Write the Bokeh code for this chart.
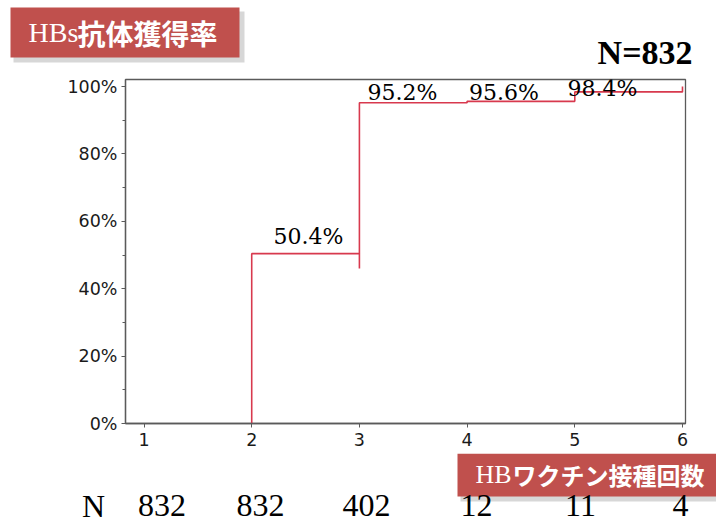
from bokeh.plotting import figure
from bokeh.layouts import column
from bokeh.models import Range1d, FixedTicker, PrintfTickFormatter, ColumnDataSource
from bokeh.core.properties import value
from bokeh.embed import file_html
from bokeh.resources import INLINE

# ---------------- data ----------------
doses = [2, 3, 4, 5, 6]                    # number of HB vaccine doses
rates = [50.4, 95.2, 95.6, 98.4, 100.0]    # cumulative HBs antibody acquisition (%)
rate_labels = ["50.4%", "95.2%", "95.6%", "98.4%"]
n_doses = [1, 2, 3, 4, 5, 6]
n_at_risk = [832, 832, 402, 12, 11, 4]
total_n = 832
x_ticks = [1, 2, 3, 4, 5, 6]
y_ticks = [0, 20, 40, 60, 80, 100]
y_minor = [10, 30, 50, 70, 90]
title_latin = "HBs"
title_cjk = "抗体獲得率"
xlab_latin = "HB"
xlab_cjk = "ワクチン接種回数"

# ---------------- layout (positions / styles) ----------------
RED = "#C0504D"
LINE = "#D8394E"
SHADOW = "#8c8c8c"
W = 716
TOP_H = 72          # header strip height
MAIN_H = 381        # main chart height (page y 72..453)
BOT_H = 523 - TOP_H - MAIN_H
FL, FR, FT, FB = 125, 685, 79, 423          # frame edges, page px
X0, X1 = 0.828, 6.028
Y0, Y1 = 0.0, 102.08

def dx(px):  # page px -> data x
    return X0 + (px - FL) * (X1 - X0) / (FR - FL)

def dy(py):  # page px -> data y
    return Y0 + (FB - py) * (Y1 - Y0) / (FB - FT)

label_px = [(308, 236), (402, 92), (503.5, 92), (602, 88)]
n_x_off = [0.167, 0.081, 0.066, 0.087, 0.053, -0.019]


def plain_fig(h, xr):
    f = figure(width=W, height=h, output_backend="svg", toolbar_location=None,
               x_range=xr, y_range=Range1d(h, 0), x_axis_type=None, y_axis_type=None,
               min_border=0)
    f.outline_line_color = None
    f.xgrid.visible = False
    f.ygrid.visible = False
    f.background_fill_color = "white"
    f.border_fill_color = "white"
    return f

# ---------------- header ----------------
top = plain_fig(TOP_H, Range1d(0, W))
top.quad(left=[13], right=[244], top=[11], bottom=[62], fill_color=SHADOW,
         fill_alpha=0.35, line_color=None)
top.quad(left=[10], right=[239], top=[7], bottom=[57], fill_color=RED, line_color=None)
top.text(x=[28], y=[32], text=[title_latin], text_font=value("Liberation Serif"),
         text_font_size="28px", text_color="white", text_baseline="middle")
top.text(x=[77], y=[32], text=[title_cjk], text_font=value("Noto Sans CJK JP"),
         text_font_style="bold", text_font_size="28px", text_color="white",
         text_baseline="middle")
top.text(x=[692], y=[52], text=[f"N={total_n}"], text_font=value("Liberation Serif"),
         text_font_style="bold", text_font_size="34px", text_color="black",
         text_align="right", text_baseline="middle")

# ---------------- main chart ----------------
p = figure(width=W, height=MAIN_H, output_backend="svg", toolbar_location=None,
           x_range=Range1d(X0, X1), y_range=Range1d(Y0, Y1),
           min_border_left=FL, min_border_right=W - FR,
           min_border_top=FT - TOP_H, min_border_bottom=TOP_H + MAIN_H - FB)
p.background_fill_color = "white"
p.border_fill_color = "white"
p.outline_line_color = "#5a5a5a"
p.outline_line_width = 1.3
p.xgrid.visible = False
p.ygrid.visible = False

for ax in (p.xaxis[0], p.yaxis[0]):
    ax.axis_line_color = "#5a5a5a"
    ax.axis_line_width = 1.3
    ax.major_tick_line_color = "#5a5a5a"
    ax.minor_tick_line_color = "#5a5a5a"
    ax.major_tick_out = 4
    ax.major_tick_in = 0
    ax.major_label_text_font = "DejaVu Sans"
    ax.major_label_text_font_size = "17.5px"
    ax.major_label_text_color = "#1a1a1a"

p.xaxis.ticker = FixedTicker(ticks=x_ticks)
p.xaxis.minor_tick_line_color = None
p.xaxis.major_label_standoff = 5
p.yaxis.ticker = FixedTicker(ticks=y_ticks, minor_ticks=y_minor)
p.yaxis.minor_tick_out = 3
p.yaxis.minor_tick_in = 0
p.yaxis.formatter = PrintfTickFormatter(format="%d%%")
p.yaxis.major_label_standoff = 4

# step curve
sx = [doses[0]] + doses
sy = [0.0] + rates
p.step(sx, sy, mode="after", line_color=LINE, line_width=1.6)
# censor tick below the step at dose 3
p.segment(x0=[doses[1]], y0=[rates[0]], x1=[doses[1]], y1=[rates[0] - 4.4],
          line_color=LINE, line_width=1.6)

src = ColumnDataSource(dict(x=[dx(a) for a, b in label_px],
                            y=[dy(b) for a, b in label_px], t=rate_labels))
p.text(x="x", y="y", text="t", source=src, text_font=value("DejaVu Serif"),
       text_font_size="22px", text_align="center", text_baseline="middle",
       text_color="black")

# ---------------- footer ----------------
OFF = TOP_H + MAIN_H   # page y of footer top
bot = plain_fig(BOT_H, Range1d(dx(0), dx(W)))
bot.quad(left=[dx(460)], right=[dx(W)], top=[451 - OFF + 4], bottom=[501 - OFF],
         fill_color=SHADOW, fill_alpha=0.35, line_color=None)
bot.quad(left=[dx(457)], right=[dx(W)], top=[0], bottom=[496 - OFF], fill_color=RED,
         line_color=None)
bot.text(x=[dx(475)], y=[474 - OFF], text=[xlab_latin], text_font=value("Liberation Serif"),
         text_font_size="26px", text_color="white", text_baseline="middle")
bot.text(x=[dx(512)], y=[474 - OFF], text=[xlab_cjk], text_font=value("Noto Sans CJK JP"),
         text_font_style="bold", text_font_size="24px", text_color="white",
         text_baseline="middle")
row_y = 505 - OFF
bot.text(x=[dx(93)], y=[row_y], text=["N"], text_font=value("Liberation Serif"),
         text_font_size="32px", text_color="black", text_align="center",
         text_baseline="middle")
bot.text(x=[d + o for d, o in zip(n_doses, n_x_off)], y=[row_y] * len(n_doses),
         text=[str(n) for n in n_at_risk], text_font=value("Liberation Serif"),
         text_font_size="32px", text_color="black", text_align="center",
         text_baseline="middle")

layout = column(column(top), p, column(bot), spacing=0)
open("out.html", "w").write(file_html(layout, INLINE))
